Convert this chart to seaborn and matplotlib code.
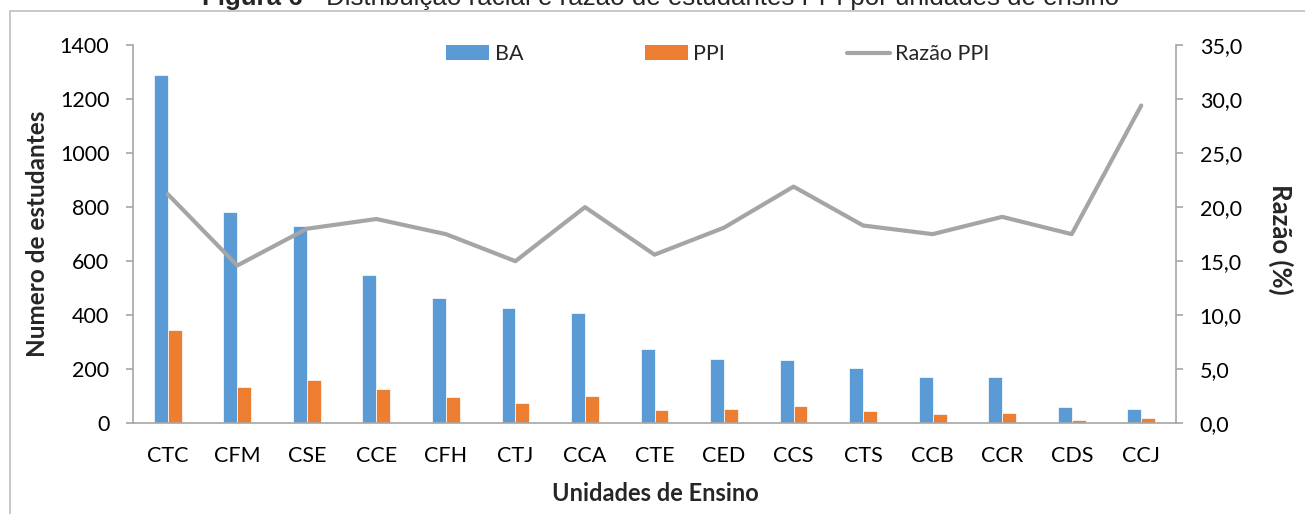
import numpy as np
import pandas as pd
import matplotlib
matplotlib.use("Agg")
import matplotlib.pyplot as plt
from matplotlib.lines import Line2D
from matplotlib.patches import Patch
from matplotlib.ticker import FixedLocator, FuncFormatter
import seaborn as sns

# Units of teaching and student counts
unidades = ["CTC", "CFM", "CSE", "CCE", "CFH", "CTJ", "CCA", "CTE",
            "CED", "CCS", "CTS", "CCB", "CCR", "CDS", "CCJ"]
ba = [1289, 781, 731, 550, 463, 427, 407, 274, 238, 234, 204, 171, 171, 60, 52]
ppi = [344, 133, 160, 127, 96, 74, 101, 49, 52, 64, 44, 34, 39, 12, 20]
razao_ppi = [21.2, 14.6, 18.0, 18.9, 17.5, 15.0, 20.0, 15.6, 18.1, 21.9,
             18.3, 17.5, 19.1, 17.5, 29.4]

left_ticks = [0, 200, 400, 600, 800, 1000, 1200, 1400]
right_ticks = [0, 5, 10, 15, 20, 25, 30, 35]

C_BA = "#5B9BD5"
C_PPI = "#ED7D31"
C_LINE = "#A5A5A5"
C_AXIS = "#A6A6A6"

sns.set_style("white")
plt.rcParams["font.family"] = ["Lato", "DejaVu Sans"]

df = pd.DataFrame({
    "Unidade": unidades * 2,
    "Grupo": ["BA"] * len(unidades) + ["PPI"] * len(unidades),
    "Estudantes": ba + ppi,
})

W, H = 1305, 514
fig = plt.figure(figsize=(W / 100, H / 100), dpi=100)
ax = fig.add_axes([133 / W, 1 - 423.3 / H, (1176 - 133) / W, (423.3 - 45) / H])

sns.barplot(data=df, x="Unidade", y="Estudantes", hue="Grupo",
            palette={"BA": C_BA, "PPI": C_PPI}, width=0.4, order=unidades,
            edgecolor="white", linewidth=0.5, saturation=1, ax=ax, legend=False)

ax.set_xlim(-0.5, len(unidades) - 0.5)
ax.set_ylim(0, 1400)
ax.yaxis.set_major_locator(FixedLocator(left_ticks))
ax.yaxis.set_major_formatter(FuncFormatter(lambda v, p: f"{int(v)}"))

ax2 = ax.twinx()
sns.lineplot(x=np.arange(len(unidades)), y=razao_ppi, color=C_LINE,
             linewidth=3, ax=ax2)
ax2.set_ylim(0, 35)
ax2.yaxis.set_major_locator(FixedLocator(right_ticks))
ax2.yaxis.set_major_formatter(FuncFormatter(lambda v, p: f"{v:.1f}".replace(".", ",")))

for a in (ax, ax2):
    for s in a.spines.values():
        s.set_visible(False)
ax.spines["left"].set_visible(True)
ax.spines["bottom"].set_visible(True)
ax2.spines["right"].set_visible(True)
for s in (ax.spines["left"], ax.spines["bottom"], ax2.spines["right"]):
    s.set_color(C_AXIS)
    s.set_linewidth(1.2)

tick_fs = 15.5
ax.tick_params(axis="y", direction="out", length=5, width=1.2, color=C_AXIS,
               pad=12, labelsize=tick_fs, labelcolor="black", left=True)
ax.tick_params(axis="x", length=0, pad=16, labelsize=tick_fs, labelcolor="black")
ax2.tick_params(axis="y", direction="out", length=5, width=1.2, color=C_AXIS,
                pad=12, labelsize=tick_fs, labelcolor="black", right=True)

ax.set_xlabel("Unidades de Ensino", fontsize=17, fontweight="bold")
ax.set_ylabel("Numero de estudantes", fontsize=17.5, fontweight="bold")
ax2.set_ylabel("Razão (%)", fontsize=18.5, fontweight="bold", rotation=270)
ax.xaxis.label.set_va("center")
ax.yaxis.label.set_va("center")
ax2.yaxis.label.set_va("center")
ax.xaxis.set_label_coords((655 - 133) / 1043, (423.3 - 493) / 378.3)
ax.yaxis.set_label_coords((38 - 133) / 1043, 0.5)
ax2.yaxis.set_label_coords((1281 - 133) / 1043, 0.485)

handles = [Patch(facecolor=C_BA, edgecolor="none"),
           Patch(facecolor=C_PPI, edgecolor="none"),
           Line2D([], [], color=C_LINE, linewidth=3)]
fig.legend(handles, ["BA", "PPI", "Razão PPI"], loc="center",
           bbox_to_anchor=(718 / W, 1 - 54 / H), ncol=3, frameon=False,
           fontsize=15.5, handlelength=2.0, handleheight=0.65,
           handletextpad=0.25, columnspacing=5.65)

# Outer frame (top and left edges of the chart area)
fig.add_artist(Line2D([10 / W, 10 / W], [0, 1 - 11 / H], transform=fig.transFigure,
                      color="#BFBFBF", linewidth=1.2))
fig.add_artist(Line2D([10 / W, 1], [1 - 11 / H, 1 - 11 / H], transform=fig.transFigure,
                      color="#BFBFBF", linewidth=1.2))

# Figure caption
x_split = 303 / W
fig.text(x_split, 1 - 5.5 / H, "Figura 6", ha="right", va="baseline",
         fontsize=18.6, fontweight="bold", family=["Liberation Sans", "DejaVu Sans"])
fig.text(x_split, 1 - 5.5 / H, " - Distribuição racial e razão de estudantes PPI por unidades de ensino",
         ha="left", va="baseline", fontsize=18.6,
         family=["Liberation Sans", "DejaVu Sans"])

fig.savefig("out.png", dpi=100)
